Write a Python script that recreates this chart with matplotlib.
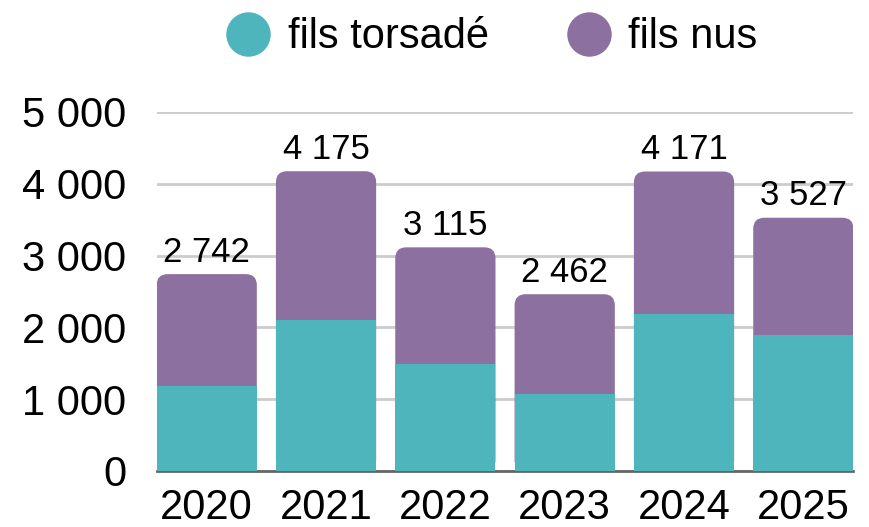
import matplotlib
matplotlib.use("Agg")
import matplotlib.pyplot as plt
from matplotlib.patches import FancyBboxPatch
from matplotlib.lines import Line2D

# donnees
annees = ["2020", "2021", "2022", "2023", "2024", "2025"]
fils_torsade = [1185, 2106, 1492, 1074, 2190, 1897]
totaux = [2742, 4175, 3115, 2462, 4171, 3527]
fils_nus = [t - f for t, f in zip(totaux, fils_torsade)]
graduations = [0, 1000, 2000, 3000, 4000, 5000]

couleur_torsade = "#4FB5BD"
couleur_nus = "#8C71A0"

police = "Liberation Sans"


def fmt(v):
    return f"{v:,}".replace(",", " ")


fig = plt.figure(figsize=(8.7, 5.27), dpi=100)
ax = fig.add_axes([0.180, 0.1063, 0.801, 0.6812])

x = list(range(len(annees)))
largeur = 0.84

# segment du haut arrondi (dessine de 0 au total, la partie basse est recouverte)
barres_nus = ax.bar(x, totaux, width=largeur, color="none", zorder=2)
ax.set_xlim(-largeur / 2, len(annees) - 1 + largeur / 2)
ax.set_ylim(0, 5000)

fig.canvas.draw()
px_x = (ax.get_xlim()[1] - ax.get_xlim()[0]) / ax.bbox.width
px_y = (ax.get_ylim()[1] - ax.get_ylim()[0]) / ax.bbox.height
aspect = px_y / px_x
rayon = 11 * px_x

for b in barres_nus:
    p = FancyBboxPatch((b.get_x(), 0), b.get_width(), b.get_height(),
                       boxstyle=f"round,pad=0,rounding_size={rayon}",
                       mutation_aspect=aspect, facecolor=couleur_nus,
                       edgecolor="none", zorder=2)
    ax.add_patch(p)

ax.bar(x, fils_torsade, width=largeur, color=couleur_torsade, zorder=3)

for xi, t in zip(x, totaux):
    ax.annotate(fmt(t), (xi, t), xytext=(0, 4), textcoords="offset points",
                ha="center", va="bottom", fontsize=25, family=police)

ax.set_yticks(graduations)
ax.set_yticklabels([fmt(v) for v in graduations], fontsize=30, family=police)
ax.set_xticks(x)
ax.set_xticklabels(annees, fontsize=30, family=police)
ax.tick_params(axis="y", length=0, pad=22)
ax.tick_params(axis="x", length=0, pad=12)

ax.grid(axis="y", color="#cccccc", linewidth=2, zorder=0)
ax.set_axisbelow(True)
for s in ["top", "right", "left"]:
    ax.spines[s].set_visible(False)
ax.spines["bottom"].set_color("#666666")
ax.spines["bottom"].set_linewidth(2)
ax.spines["bottom"].set_zorder(1)

poignees = [
    Line2D([], [], marker="o", linestyle="none", markersize=32,
           markerfacecolor=couleur_torsade, markeredgecolor="none"),
    Line2D([], [], marker="o", linestyle="none", markersize=32,
           markerfacecolor=couleur_nus, markeredgecolor="none"),
]
fig.legend(poignees, ["fils torsadé", "fils nus"], loc="center",
           bbox_to_anchor=(0.566, 0.929), ncol=2, frameon=False,
           prop={"family": police, "size": 30},
           handletextpad=0.45, columnspacing=1.9, handlelength=1.0)

fig.savefig("out.png", dpi=100)
